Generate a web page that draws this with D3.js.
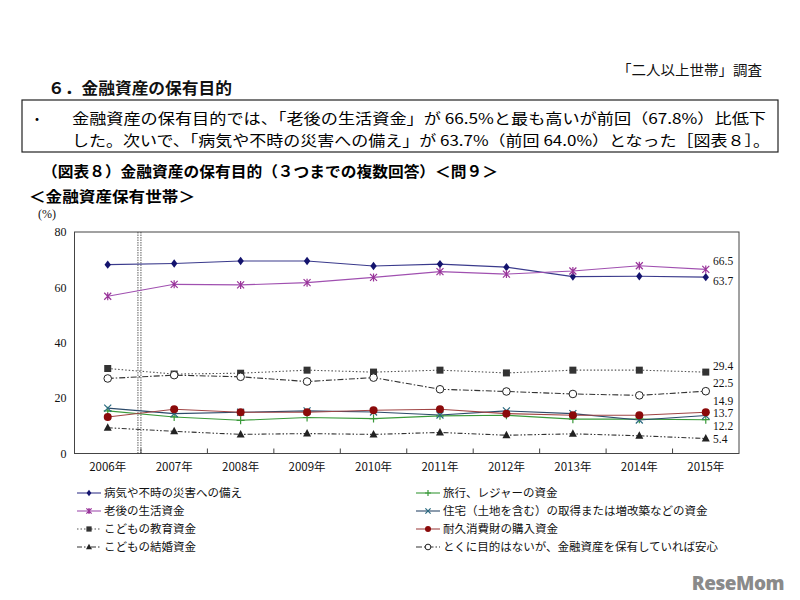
<!DOCTYPE html>
<html><head><meta charset="utf-8">
<script src="https://cdn.jsdelivr.net/npm/d3@7"></script>
<style>
html,body{margin:0;padding:0;background:#fff;}
svg{display:block;}
</style></head>
<body>
<svg id="c" width="800" height="600"></svg>
<script>
const years = ["2006年","2007年","2008年","2009年","2010年","2011年","2012年","2013年","2014年","2015年"];
const yTicks = [0,20,40,60,80];
const sickness = [68.2,68.6,69.5,69.5,67.7,68.4,67.3,63.9,64.0,63.7];
const retirement = [56.8,61.1,60.9,61.7,63.6,65.7,64.8,65.9,67.8,66.5];
const education = [30.7,28.7,29.0,30.1,29.4,30.1,29.1,30.1,30.1,29.4];
const wedding = [9.3,8.0,6.9,7.2,6.9,7.6,6.6,7.1,6.4,5.4];
const travel = [15.4,13.2,12.0,13.0,12.6,13.6,13.8,12.4,12.4,12.2];
const housing = [16.4,14.4,14.9,15.4,15.0,13.9,15.4,14.4,12.1,13.7];
const durable = [13.2,16.0,14.9,14.9,15.6,16.0,14.4,13.8,13.8,14.9];
const noPurpose = [27.1,28.3,27.7,26.0,27.4,23.2,22.4,21.5,21.0,22.5];
const seriesNames = ["病気や不時の災害への備え","老後の生活資金","こどもの教育資金","こどもの結婚資金",
  "旅行、レジャーの資金","住宅（土地を含む）の取得または増改築などの資金","耐久消費財の購入資金","とくに目的はないが、金融資産を保有していれば安心"];

const series = [
  {name:seriesNames[0], values:sickness, line:"#3a3a8c", mark:"#14146e", sym:"diamond", dash:null},
  {name:seriesNames[1], values:retirement, line:"#a050b0", mark:"#993399", sym:"asterisk", dash:null},
  {name:seriesNames[2], values:education, line:"#555", mark:"#333", sym:"square", dash:"1.5,2"},
  {name:seriesNames[3], values:wedding, line:"#333", mark:"#222", sym:"triangle", dash:"5,2,1.5,2,1.5,2"},
  {name:seriesNames[4], values:travel, line:"#3a9a3a", mark:"#3a9a3a", sym:"plus", dash:null},
  {name:seriesNames[5], values:housing, line:"#2c4a6a", mark:"#2a6a80", sym:"x", dash:null},
  {name:seriesNames[6], values:durable, line:"#a04545", mark:"#8b0a0a", sym:"circle", dash:null},
  {name:seriesNames[7], values:noPurpose, line:"#333", mark:"#222", sym:"opencircle", dash:"6,2,1.5,2"}
];
const drawOrder = [2,7,4,5,6,3,0,1];

const svg = d3.select("#c");
const jp = "'Noto Sans CJK JP','Noto Sans',sans-serif";
const serif = "'Liberation Serif','DejaVu Serif',serif";

svg.append("text").attr("x",762).attr("y",75).attr("text-anchor","end")
  .attr("font-family",jp).attr("font-size",14).attr("fill","#111")
  .attr("textLength",145).attr("lengthAdjust","spacingAndGlyphs").text("「二人以上世帯」調査");
svg.append("text").attr("x",48).attr("y",94)
  .attr("font-family",jp).attr("font-size",16).attr("font-weight","bold").attr("fill","#111")
  .attr("textLength",184).attr("lengthAdjust","spacingAndGlyphs").text("６．金融資産の保有目的");
svg.append("rect").attr("x",22).attr("y",100).attr("width",756).attr("height",52)
  .attr("fill","none").attr("stroke","#222").attr("stroke-width",1.2);
svg.append("text").attr("x",30).attr("y",124).attr("font-family",jp).attr("font-size",14).text("・");
svg.append("text").attr("x",72).attr("y",124).attr("font-family",jp).attr("font-size",14.5)
  .attr("textLength",694).attr("lengthAdjust","spacingAndGlyphs")
  .text("金融資産の保有目的では、「老後の生活資金」が 66.5%と最も高いが前回（67.8%）比低下");
svg.append("text").attr("x",72).attr("y",146).attr("font-family",jp).attr("font-size",14.5)
  .attr("textLength",698).attr("lengthAdjust","spacingAndGlyphs")
  .text("した。次いで、「病気や不時の災害への備え」が 63.7%（前回 64.0%）となった［図表８］。");
svg.append("text").attr("x",42).attr("y",177).attr("font-family",jp).attr("font-size",15).attr("font-weight","bold")
  .attr("textLength",456).attr("lengthAdjust","spacingAndGlyphs")
  .text("（図表８）金融資産の保有目的（３つまでの複数回答）＜問９＞");
svg.append("text").attr("x",29).attr("y",202).attr("font-family",jp).attr("font-size",15).attr("font-weight","bold")
  .attr("textLength",166).attr("lengthAdjust","spacingAndGlyphs")
  .text("＜金融資産保有世帯＞");

const x = d3.scaleBand().domain(years).range([74.5,739]).padding(0);
const cx = d => x(d) + x.bandwidth()/2;
const y = d3.scaleLinear().domain([0,80]).range([453.5,232]);

svg.append("rect").attr("x",74.5).attr("y",232).attr("width",739-74.5).attr("height",453.5-232)
  .attr("fill","none").attr("stroke","#444").attr("stroke-width",1);

const yAxis = svg.append("g").attr("transform","translate(74.5,0)")
  .call(d3.axisLeft(y).tickValues(yTicks).tickSize(0).tickPadding(8));
yAxis.select(".domain").remove();
yAxis.selectAll("text").attr("font-family",serif).attr("font-size",12).attr("fill","#111");
svg.append("text").attr("x",38).attr("y",218).attr("font-family",serif).attr("font-size",12).attr("fill","#111").text("(%)");

const xAxis = svg.append("g").attr("transform","translate(0,453.5)")
  .call(d3.axisBottom(x).tickSize(0).tickPadding(9));
xAxis.select(".domain").remove();
xAxis.selectAll("text").attr("font-family",jp).attr("font-size",11.5).attr("fill","#111");
svg.append("g").selectAll("line").data(years.slice(1)).join("line")
  .attr("x1",d=>x(d)).attr("x2",d=>x(d)).attr("y1",453.5).attr("y2",448.5)
  .attr("stroke","#444").attr("stroke-width",1);

const bx = x(years[1]);
[bx-3, bx].forEach(px=>{
  svg.append("line").attr("x1",px).attr("x2",px).attr("y1",232).attr("y2",453.5)
    .attr("stroke","#333").attr("stroke-width",0.8).attr("stroke-dasharray","1.5,1");
});

function drawSym(g, sym, px, py, color, s){
  s = s || 1;
  if(sym==="diamond"){
    g.append("path").attr("d",`M${px},${py-4.2*s}L${px+3.2*s},${py}L${px},${py+4.2*s}L${px-3.2*s},${py}Z`).attr("fill",color);
  } else if(sym==="square"){
    g.append("rect").attr("x",px-3.5*s).attr("y",py-3.5*s).attr("width",7*s).attr("height",7*s).attr("fill",color);
  } else if(sym==="triangle"){
    g.append("path").attr("d",`M${px},${py-4.5*s}L${px+4*s},${py+3*s}L${px-4*s},${py+3*s}Z`).attr("fill",color);
  } else if(sym==="circle"){
    g.append("circle").attr("cx",px).attr("cy",py).attr("r",4*s).attr("fill",color);
  } else if(sym==="opencircle"){
    g.append("circle").attr("cx",px).attr("cy",py).attr("r",3.8*s).attr("fill","#fff").attr("stroke",color).attr("stroke-width",1);
  } else if(sym==="plus"){
    g.append("path").attr("d",`M${px-4*s},${py}H${px+4*s}M${px},${py-4*s}V${py+4*s}`).attr("stroke",color).attr("stroke-width",1.2);
  } else if(sym==="x"){
    g.append("path").attr("d",`M${px-3.5*s},${py-3.5*s}L${px+3.5*s},${py+3.5*s}M${px+3.5*s},${py-3.5*s}L${px-3.5*s},${py+3.5*s}`).attr("stroke",color).attr("stroke-width",1.2);
  } else if(sym==="asterisk"){
    g.append("path").attr("d",`M${px-3.5*s},${py-3.5*s}L${px+3.5*s},${py+3.5*s}M${px+3.5*s},${py-3.5*s}L${px-3.5*s},${py+3.5*s}M${px},${py-4*s}V${py+4*s}`).attr("stroke",color).attr("stroke-width",1.2);
  }
}

const line = d3.line().x((d,i)=>cx(years[i])).y(d=>y(d));
const plot = svg.append("g");
drawOrder.forEach(k=>{
  const s = series[k];
  plot.append("path").datum(s.values).attr("d",line).attr("fill","none")
    .attr("stroke",s.line).attr("stroke-width",1.1).attr("stroke-dasharray",s.dash);
});
drawOrder.forEach(k=>{
  const s = series[k];
  s.values.forEach((v,i)=>drawSym(plot, s.sym, cx(years[i]), y(v), s.mark));
});

const labelSeries = [1,0,2,7,6,5,4,3];
const nudges = [-8,4,-6,-8,-11.5,-2.5,6,0];
labelSeries.forEach((k,j)=>{
  const v = series[k].values[series[k].values.length-1];
  svg.append("text").attr("x",713).attr("y",y(v)+nudges[j]).attr("dy","0.35em")
    .attr("font-family",serif).attr("font-size",11.5).attr("fill","#111").text(v.toFixed(1));
});

const legendRows = [493,511,529,547];
series.forEach((s,i)=>{
  const col = i<4 ? 0 : 1;
  const row = i%4;
  const lx = col===0 ? 77 : 416;
  const ly = legendRows[row];
  const g = svg.append("g");
  g.append("line").attr("x1",lx).attr("x2",lx+24).attr("y1",ly).attr("y2",ly)
    .attr("stroke",s.line).attr("stroke-width",1.1).attr("stroke-dasharray",s.dash);
  drawSym(g, s.sym, lx+12, ly, s.mark, 0.75);
  g.append("text").attr("x",lx+27).attr("y",ly).attr("dy","0.36em")
    .attr("font-family",jp).attr("font-size",11.5).attr("fill","#111").text(s.name);
});

svg.append("text").attr("x",784).attr("y",590).attr("text-anchor","end")
  .attr("font-family","'Open Sans',sans-serif").attr("font-weight","800").attr("font-size",19)
  .attr("fill","#8a8a8a").attr("letter-spacing","-0.5").text("ReseMom");
</script>
</body></html>
